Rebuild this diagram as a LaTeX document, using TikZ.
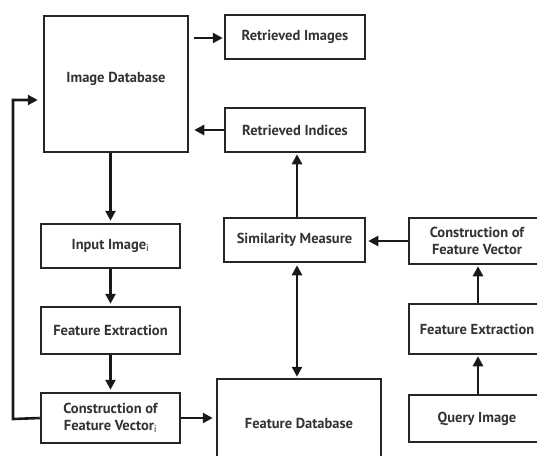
\documentclass[tikz,border=0pt]{standalone}
\usepackage{fontspec}
\setmainfont{PT Sans}
\usetikzlibrary{arrows.meta,calc}
\begin{document}
\begin{tikzpicture}[x=1pt,y=-1pt,
  box/.style={draw=black!85,line width=2.5pt,rectangle,inner sep=0pt,align=center,
    font=\fontsize{14.5}{16.5}\selectfont\bfseries,text=black!80},
  arr/.style={line width=2.6pt,draw=black!90,-{Triangle[length=10pt,width=10pt]}},
  darr/.style={line width=2.6pt,draw=black!90,{Triangle[length=10pt,width=10pt]}-{Triangle[length=10pt,width=10pt]}}]
\useasboundingbox (0,0) rectangle (537,455);
\clip (0,0) rectangle (537,455);
\node[box,minimum width=144pt,minimum height=136pt,text depth=14pt] (idb) at (116,84) {Image Database};
\node[box,minimum width=140pt,minimum height=44pt] (rimg) at (295,37) {Retrieved Images};
\node[box,minimum width=140pt,minimum height=44pt] (rind) at (295,130) {Retrieved Indices};
\node[box,minimum width=139pt,minimum height=44pt] (inp) at (110.5,246) {Input Image$_{\mathrm{i}}$};
\node[box,minimum width=139pt,minimum height=47pt] (fel) at (110.5,330.5) {Feature Extraction};
\node[box,minimum width=139pt,minimum height=50pt] (cfvl) at (110.5,418) {Construction of\\Feature Vector$_{\mathrm{i}}$};
\node[box,minimum width=164pt,minimum height=88pt] (fdb) at (299,423) {Feature Database};
\node[box,minimum width=141pt,minimum height=44pt] (sim) at (294.5,240) {Similarity Measure};
\node[box,minimum width=136pt,minimum height=46pt] (cfvr) at (477,241) {Construction of\\Feature Vector};
\node[box,minimum width=136pt,minimum height=50pt] (fer) at (477,329) {Feature Extraction};
\node[box,minimum width=136pt,minimum height=47pt] (qry) at (477,418.5) {Query Image};
\coordinate (fb1) at (13,419);
\coordinate (fb2) at (13,100);
% connectors
\draw[arr,shorten >=1pt] ($(idb.east)+(5,-46)$) -- (rimg.west |- 0,38);
\draw[arr,shorten >=5pt] (rind.west) -- (idb.east |- rind.west);
\draw[arr,shorten >=2pt] (inp.north |- idb.south) -- (inp.north);
\draw[arr,shorten >=2pt] (inp.south) -- (fel.north);
\draw[arr,shorten >=2pt] (fel.south) -- (cfvl.north);
\draw[arr,shorten >=3pt] (cfvl.east) -- (fdb.west |- cfvl.east);
\draw[arr,shorten >=5pt] (cfvl.west) -- (fb1) -- (fb2) -- (idb.west |- fb2);
\draw[arr,shorten >=1pt] (sim.north -| 297,0) -- (rind.south -| 297,0);
\draw[darr,shorten >=1pt,shorten <=2pt] (sim.south -| 297,0) -- (fdb.north -| 297,0);
\draw[arr,shorten >=2pt] (cfvr.west) -- (sim.east |- cfvr.west);
\draw[arr,shorten >=1pt] (fer.north -| 478,0) -- (cfvr.south -| 478,0);
\draw[arr,shorten >=1pt] (qry.north -| 478,0) -- (fer.south -| 478,0);
\end{tikzpicture}
\end{document}
